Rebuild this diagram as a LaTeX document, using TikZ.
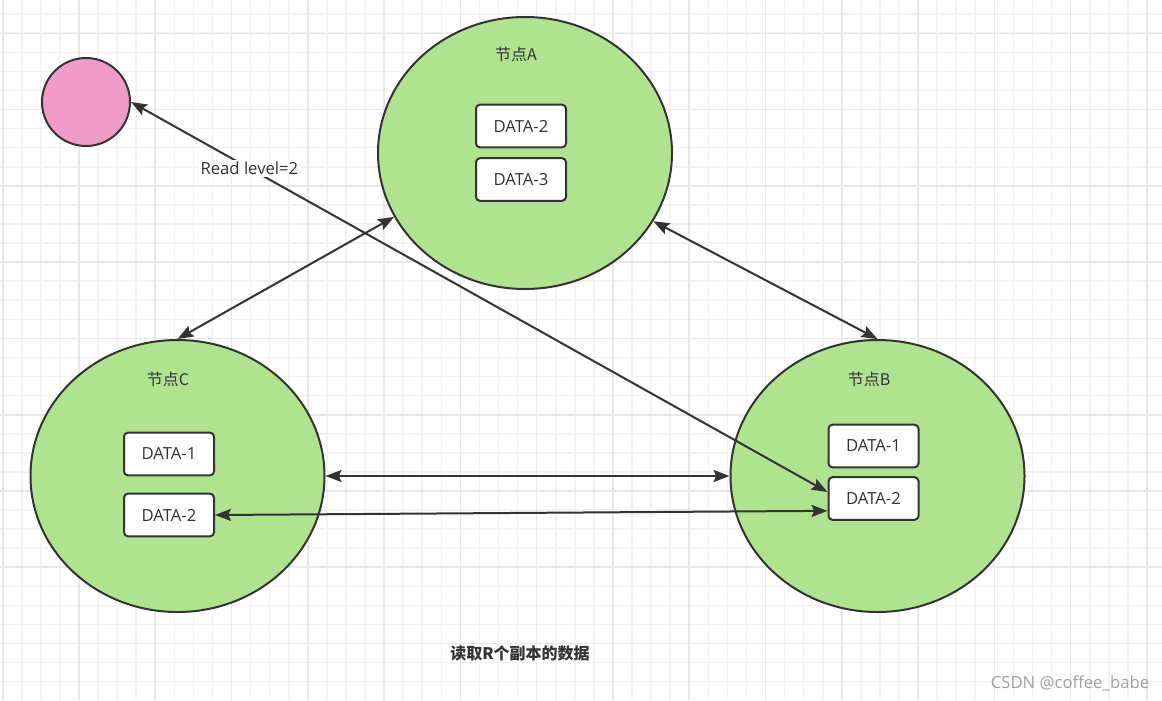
\documentclass[tikz,border=0pt]{standalone}
\usepackage{fontspec}
\setmainfont{Open Sans}
\newfontfamily\cjk{Noto Sans CJK SC}
\usetikzlibrary{arrows.meta, shapes.geometric}
\definecolor{nodegreen}{HTML}{B0E38F}
\definecolor{clientpink}{HTML}{F19BC9}
\definecolor{inkgray}{HTML}{333333}
\definecolor{gridminor}{HTML}{F3F3F3}
\definecolor{gridmajor}{HTML}{E8E8E8}

\begin{document}
\begin{tikzpicture}[<->, >={Stealth[length=12pt,width=9pt,inset=2pt]},
    x=0.75pt, y=-0.75pt, line width=1.5pt, draw=inkgray,
    font=\fontsize{12.5}{14}\selectfont,
    server/.style={ellipse, draw=inkgray, fill=nodegreen, minimum width=220.5pt, minimum height=204pt},
    replica/.style={draw=inkgray, fill=white, rounded corners=3pt, minimum width=67.5pt, minimum height=32pt, text=inkgray},
    client/.style={circle, draw=inkgray, fill=clientpink, minimum size=66pt},
    title/.style={text=inkgray, font=\cjk\fontsize{12}{14}\selectfont}]
        \useasboundingbox (0,0) rectangle (1162,700);
        \fill[white] (0,0) rectangle (1162,700);
        % grid
        \begin{scope}[-, line width=1.2pt]
          \foreach \i in {0,...,60} \draw[gridminor] ({2.7+19.07*\i},0) -- ({2.7+19.07*\i},700);
          \foreach \i in {0,...,35} \draw[gridminor] (0,{14.2+19.07*\i}) -- (1162,{14.2+19.07*\i});
          \foreach \j in {0,...,15} \draw[gridmajor] ({2.7+76.28*\j},0) -- ({2.7+76.28*\j},700);
          \foreach \j in {0,...,8} \draw[gridmajor] (0,{33.3+76.28*\j}) -- (1162,{33.3+76.28*\j});
        \end{scope}

        \node[client] (pink) at (86,102) {};
        \node[server] (A) at (525,153) {};
        \node[server] (C) at (177.5,476) {};
        \node[server] (B) at (877.5,476) {};

        \node[title] (tA) at (516,54) {节点A};
        \node[title] (tC) at (168,379) {节点C};
        \node[title] (tB) at (869,379) {节点B};

        \node[replica] (a2) at (521,126) {DATA-2};
        \node[replica] (a3) at (521,179.5) {DATA-3};
        \node[replica] (c1) at (169,454) {DATA-1};
        \node[replica] (c2) at (169,515) {DATA-2};
        \node[replica] (b1) at (873.5,446) {DATA-1};
        \node[replica] (b2) at (873.5,498.5) {DATA-2};

        \draw (A.206) to (C.north);
        \draw (A.332) to (B.north);
        \draw (C.east) to (B.west);
        \draw (c2.east) to (b2.195);
        \draw (b2.172) to node[pos=0.83, fill=white, text=inkgray, inner sep=1.5pt] (rl) {Read level=2} (pink.east);

        \node[title, font=\cjk\bfseries\fontsize{12}{14}\selectfont] (cap) at (520,653) {读取R个副本的数据};
        \node[text=gray!75] (mark) at (1070,683) {CSDN @coffee\_babe};

      \end{tikzpicture}
\end{document}
